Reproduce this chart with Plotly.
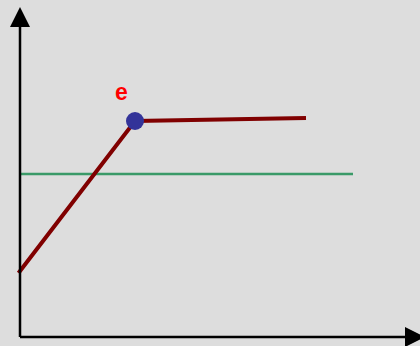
import plotly.graph_objects as go

# data (origin at the axis intersection)
line_x = [-1.5, 115, 286]
line_y = [64, 216, 219]
point_x = [115]
point_y = [216]
point_label = ["e"]
ref_x = [0, 333]
ref_y = [163, 163]

fig = go.Figure()
fig.add_trace(go.Scatter(x=ref_x, y=ref_y, mode="lines",
                         line=dict(color="#3a9a68", width=2.5), hoverinfo="skip"))
fig.add_trace(go.Scatter(x=line_x, y=line_y, mode="lines",
                         line=dict(color="#800000", width=4), hoverinfo="skip"))
fig.add_trace(go.Scatter(x=point_x, y=point_y, mode="markers",
                         marker=dict(color="#333399", size=18),
                         hoverinfo="skip"))
for px_, py_, lab in zip(point_x, point_y, point_label):
    fig.add_annotation(x=px_, y=py_, text="<b>" + lab + "</b>", showarrow=False,
                       xshift=-13.5, yshift=29,
                       font=dict(family="Liberation Sans, Arial", size=23, color="#ff0000"))

axis_col = "#000000"
shapes = [
    dict(type="line", xref="x", yref="y", x0=0, y0=0, x1=0, y1=315,
         line=dict(color=axis_col, width=2.5)),
    dict(type="line", xref="x", yref="y", x0=0, y0=0, x1=388, y1=0,
         line=dict(color=axis_col, width=2.5)),
    dict(type="path", xref="x", yref="y", path="M -10 310 L 10 310 L 0 330 Z",
         fillcolor=axis_col, line=dict(width=0)),
    dict(type="path", xref="x", yref="y", path="M 385 10 L 385 -10 L 405 0 Z",
         fillcolor=axis_col, line=dict(width=0)),
]

fig.update_layout(
    width=420, height=346,
    margin=dict(l=0, r=0, t=0, b=0),
    paper_bgcolor="#dddddd", plot_bgcolor="#dddddd",
    showlegend=False,
    shapes=shapes,
    xaxis=dict(range=[-20, 400], visible=False, fixedrange=True),
    yaxis=dict(range=[-9, 337], visible=False, fixedrange=True),
)
fig.write_html("out.html", config={"displayModeBar": False},
               post_script="document.body.style.margin='0';document.body.style.background='#dddddd';")
